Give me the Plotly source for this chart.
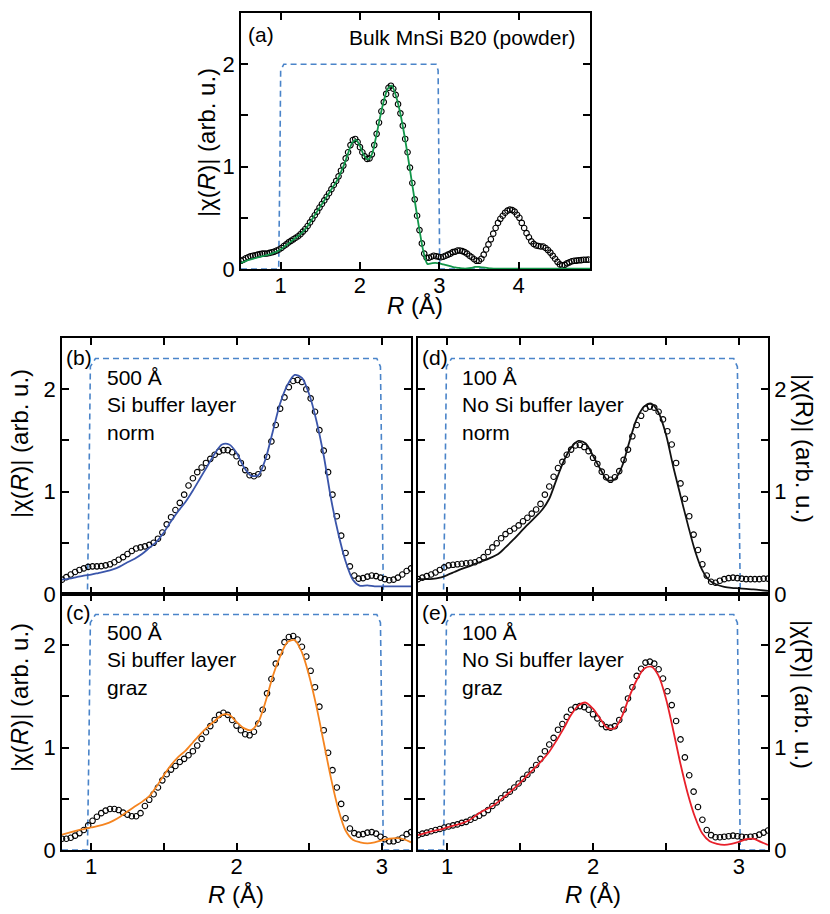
import numpy as np
import plotly.graph_objects as go

W, H = 830, 914
FONT = "Liberation Sans, Arial, sans-serif"

# ---- data (|chi(R)|, arb. u.) ----
# circles: data on an R grid starting at r0 with step 0.03; fits: step 0.05
A_R0, A_DR = 0.50, 0.03
a_data = [0.08, 0.09, 0.105, 0.115, 0.125, 0.13, 0.135, 0.14, 0.145, 0.15,
          0.15, 0.152, 0.157, 0.163, 0.17, 0.18, 0.19, 0.205, 0.225, 0.24,
          0.26, 0.275, 0.29, 0.305, 0.32, 0.34, 0.365, 0.39, 0.42, 0.455,
          0.49, 0.525, 0.56, 0.60, 0.635, 0.67, 0.705, 0.74, 0.78, 0.82,
          0.86, 0.905, 0.96, 1.01, 1.08, 1.14, 1.21, 1.26, 1.27, 1.24,
          1.19, 1.14, 1.10, 1.075, 1.08, 1.12, 1.21, 1.32, 1.43, 1.54,
          1.63, 1.71, 1.77, 1.79, 1.76, 1.70, 1.61, 1.52, 1.40, 1.27,
          1.14, 0.99, 0.84, 0.68, 0.52, 0.38, 0.25, 0.15, 0.11, 0.11,
          0.12, 0.13, 0.125, 0.12, 0.115, 0.12, 0.13, 0.14, 0.15, 0.165,
          0.17, 0.18, 0.18, 0.175, 0.165, 0.15, 0.13, 0.115, 0.095, 0.08,
          0.08, 0.10, 0.14, 0.19, 0.24, 0.29, 0.345, 0.40, 0.45, 0.49,
          0.52, 0.55, 0.57, 0.58, 0.575, 0.56, 0.53, 0.50, 0.45, 0.40,
          0.35, 0.31, 0.27, 0.245, 0.23, 0.225, 0.22, 0.22, 0.205, 0.185,
          0.16, 0.13, 0.10, 0.07, 0.045, 0.035, 0.04, 0.055, 0.065, 0.075,
          0.08, 0.082, 0.085, 0.087, 0.09, 0.09, 0.092]
A_FR0, A_FDR = 0.50, 0.05
a_fit = [0.06, 0.075, 0.09, 0.10, 0.11, 0.12, 0.13, 0.14, 0.155, 0.17,
         0.19, 0.22, 0.25, 0.28, 0.31, 0.34, 0.38, 0.43, 0.49, 0.55,
         0.61, 0.67, 0.73, 0.79, 0.85, 0.93, 1.02, 1.13, 1.23, 1.26,
         1.20, 1.11, 1.07, 1.12, 1.28, 1.47, 1.64, 1.76, 1.79, 1.70,
         1.55, 1.35, 1.12, 0.87, 0.62, 0.38, 0.17, 0.05, 0.055, 0.06,
         0.055, 0.045, 0.035, 0.025, 0.015, 0.01, 0.005, 0.005, 0.01, 0.02,
         0.02, 0.015, 0.01, 0.005, 0.004, 0.003, 0.003, 0.003, 0.003, 0.003,
         0.003, 0.003, 0.003, 0.003, 0.003, 0.003, 0.003, 0.003, 0.003, 0.003,
         0.003, 0.003, 0.003, 0.003, 0.003, 0.003, 0.003, 0.003, 0.003]

R0, DR = 0.80, 0.03
FR0, FDR = 0.80, 0.05
b_data = [0.14, 0.165, 0.19, 0.215, 0.235, 0.25, 0.265, 0.27, 0.27, 0.272,
          0.28, 0.29, 0.31, 0.335, 0.36, 0.39, 0.42, 0.445, 0.455, 0.465,
          0.48, 0.50, 0.54, 0.60, 0.68, 0.75, 0.82, 0.89, 0.97, 1.06,
          1.13, 1.19, 1.235, 1.28, 1.32, 1.36, 1.39, 1.405, 1.405, 1.385,
          1.345, 1.28, 1.21, 1.16, 1.15, 1.17, 1.23, 1.34, 1.49, 1.65,
          1.81, 1.92, 2.02, 2.08, 2.09, 2.07, 2.00, 1.91, 1.78, 1.60,
          1.40, 1.19, 0.97, 0.76, 0.57, 0.40, 0.27, 0.18, 0.15, 0.155,
          0.17, 0.18, 0.175, 0.16, 0.145, 0.135, 0.14, 0.16, 0.19, 0.225,
          0.25]
b_fit = [0.14, 0.15, 0.165, 0.18, 0.19, 0.205, 0.22, 0.24, 0.27, 0.31,
         0.345, 0.39, 0.45, 0.51, 0.60, 0.71, 0.81, 0.90, 1.01, 1.13,
         1.25, 1.37, 1.46, 1.46, 1.38, 1.24, 1.155, 1.16, 1.32, 1.59,
         1.86, 2.04, 2.14, 2.11, 1.95, 1.69, 1.35, 0.93, 0.59, 0.32,
         0.14, 0.08, 0.085, 0.075, 0.075, 0.075, 0.075, 0.075, 0.075]

c_data = [0.11, 0.11, 0.12, 0.14, 0.165, 0.195, 0.24, 0.285, 0.325, 0.36,
          0.385, 0.40, 0.40, 0.39, 0.365, 0.345, 0.33, 0.33, 0.36, 0.43,
          0.49, 0.545, 0.61, 0.68, 0.74, 0.785, 0.82, 0.86, 0.89, 0.925,
          0.965, 1.02, 1.085, 1.15, 1.21, 1.27, 1.32, 1.34, 1.32, 1.27,
          1.215, 1.17, 1.13, 1.12, 1.155, 1.235, 1.37, 1.53, 1.67, 1.82,
          1.93, 2.03, 2.08, 2.09, 2.055, 1.985, 1.89, 1.75, 1.59, 1.40,
          1.17, 0.95, 0.78, 0.61, 0.45, 0.31, 0.21, 0.165, 0.15, 0.155,
          0.17, 0.175, 0.16, 0.13, 0.105, 0.085, 0.085, 0.10, 0.12, 0.155,
          0.175]
c_fit = [0.15, 0.17, 0.19, 0.205, 0.22, 0.235, 0.255, 0.285, 0.325, 0.375,
         0.425, 0.47, 0.525, 0.62, 0.73, 0.83, 0.91, 0.97, 1.05, 1.13,
         1.20, 1.26, 1.32, 1.32, 1.25, 1.19, 1.17, 1.25, 1.45, 1.70,
         1.89, 2.03, 2.05, 1.93, 1.70, 1.40, 1.05, 0.70, 0.40, 0.19,
         0.10, 0.075, 0.065, 0.075, 0.095, 0.11, 0.115, 0.105, 0.075]

d_data = [0.145, 0.16, 0.175, 0.19, 0.21, 0.235, 0.26, 0.28, 0.285, 0.29,
          0.295, 0.30, 0.305, 0.31, 0.33, 0.36, 0.41, 0.455, 0.495, 0.545,
          0.585, 0.615, 0.64, 0.67, 0.71, 0.745, 0.785, 0.825, 0.88, 0.97,
          1.05, 1.145, 1.23, 1.29, 1.36, 1.41, 1.45, 1.455, 1.435, 1.395,
          1.33, 1.27, 1.195, 1.14, 1.115, 1.14, 1.20, 1.31, 1.41, 1.54,
          1.65, 1.74, 1.81, 1.83, 1.82, 1.78, 1.705, 1.59, 1.46, 1.28,
          1.08, 0.93, 0.76, 0.58, 0.43, 0.29, 0.18, 0.12, 0.11, 0.13,
          0.145, 0.155, 0.16, 0.155, 0.15, 0.145, 0.145, 0.145, 0.145, 0.15,
          0.15]
d_fit = [0.145, 0.145, 0.148, 0.16, 0.185, 0.215, 0.245, 0.27, 0.30, 0.325,
         0.355, 0.39, 0.455, 0.525, 0.60, 0.675, 0.745, 0.82, 0.93, 1.12,
         1.30, 1.43, 1.495, 1.47, 1.35, 1.22, 1.11, 1.12, 1.25, 1.49,
         1.71, 1.83, 1.86, 1.77, 1.56, 1.245, 0.96, 0.68, 0.42, 0.23,
         0.13, 0.09, 0.07, 0.06, 0.055, 0.05, 0.045, 0.038, 0.03]

e_data = [0.145, 0.16, 0.17, 0.183, 0.195, 0.205, 0.22, 0.23, 0.24, 0.25,
          0.265, 0.275, 0.295, 0.315, 0.335, 0.36, 0.39, 0.43, 0.465, 0.505,
          0.54, 0.57, 0.61, 0.65, 0.695, 0.735, 0.78, 0.83, 0.89, 0.965,
          1.03, 1.095, 1.175, 1.23, 1.30, 1.37, 1.395, 1.405, 1.395, 1.37,
          1.325, 1.285, 1.23, 1.20, 1.195, 1.21, 1.27, 1.37, 1.48, 1.59,
          1.70, 1.77, 1.83, 1.84, 1.82, 1.765, 1.675, 1.55, 1.415, 1.26,
          1.08, 0.905, 0.73, 0.57, 0.42, 0.295, 0.195, 0.145, 0.125, 0.125,
          0.13, 0.135, 0.14, 0.135, 0.13, 0.125, 0.13, 0.135, 0.15, 0.17,
          0.19]
e_fit = [0.145, 0.165, 0.185, 0.20, 0.22, 0.24, 0.26, 0.29, 0.34, 0.385,
         0.42, 0.47, 0.53, 0.59, 0.655, 0.73, 0.80, 0.875, 0.96, 1.07,
         1.19, 1.32, 1.41, 1.44, 1.38, 1.28, 1.19, 1.19, 1.31, 1.50,
         1.66, 1.77, 1.79, 1.70, 1.48, 1.17, 0.84, 0.55, 0.32, 0.16,
         0.085, 0.06, 0.05, 0.06, 0.08, 0.105, 0.11, 0.08, 0.05]

# Fourier-transform windows (dashed)
win_a_r = [0.5, 0.975, 0.99, 1.0, 1.04, 2.96, 2.985, 2.995, 3.005, 4.9]
win_a_y = [0, 0, 1.0, 1.94, 2.0, 2.0, 1.94, 1.0, 0, 0]
win_r = [0.8, 0.975, 0.985, 0.995, 1.03, 2.965, 2.99, 3.0, 3.01, 3.2]
win_y = [0, 0, 1.0, 2.22, 2.3, 2.3, 2.22, 1.0, 0, 0]


def grid(r0, dr, vals):
    return np.round(r0 + dr * np.arange(len(vals)), 3)


def px(x):
    return x / W


def py(y):
    return 1 - y / H


WIN_COLOR = "#4a84c9"
panels = [
    # axis suffix, data, fit, colour, window
    ("", grid(A_R0, A_DR, a_data), a_data, grid(A_FR0, A_FDR, a_fit), a_fit, "#12964a", win_a_r, win_a_y),
    ("2", grid(R0, DR, b_data), b_data, grid(FR0, FDR, b_fit), b_fit, "#3a55aa", win_r, win_y),
    ("3", grid(R0, DR, c_data), c_data, grid(FR0, FDR, c_fit), c_fit, "#f5841f", win_r, win_y),
    ("4", grid(R0, DR, d_data), d_data, grid(FR0, FDR, d_fit), d_fit, "#111111", win_r, win_y),
    ("5", grid(R0, DR, e_data), e_data, grid(FR0, FDR, e_fit), e_fit, "#e8202a", win_r, win_y),
]

fig = go.Figure()
for sfx, rd, yd, rf, yf, col, wr, wy in panels:
    xa, ya = "x" + sfx, "y" + sfx
    fig.add_trace(go.Scatter(x=wr, y=wy, mode="lines", xaxis=xa, yaxis=ya,
                             line=dict(color=WIN_COLOR, width=1.6, dash="6px,4px")))
    fig.add_trace(go.Scatter(x=rd, y=yd, mode="markers", xaxis=xa, yaxis=ya,
                             marker=dict(symbol="circle-open", size=5.5, color="black",
                                         line=dict(width=1.1, color="black"))))
    fig.add_trace(go.Scatter(x=rf, y=yf, mode="lines", xaxis=xa, yaxis=ya,
                             line=dict(color=col, width=1.8, shape="spline", smoothing=0.8)))

common = dict(showline=True, linecolor="black", linewidth=1.5, mirror="ticks",
              ticks="inside", ticklen=7, tickwidth=1.5, tickcolor="black",
              showgrid=False, zeroline=False, automargin=False,
              tickfont=dict(family=FONT, size=22, color="black"))
yt = dict(tickvals=[0, 0.5, 1, 1.5, 2], ticktext=["0", "", "1", "", "2"], range=[0, 2.5])
xt = dict(tickvals=[1, 1.5, 2, 2.5, 3], ticktext=["1", "", "2", "", "3"], range=[0.8, 3.2],
          ticklabelstandoff=-4)

L, M, R_ = (62, 411), (418, 768), (241, 590)
layout = dict(
    width=W, height=H, margin=dict(l=0, r=0, t=0, b=0, autoexpand=False),
    paper_bgcolor="white", plot_bgcolor="white", showlegend=False,
    font=dict(family=FONT, size=21, color="black"),
    xaxis=dict(common, domain=[px(R_[0]), px(R_[1])], range=[0.5, 4.9],
               tickvals=[1, 2, 3, 4], ticklabelstandoff=-4, anchor="y"),
    yaxis=dict(common, **yt, domain=[py(269), py(13)], anchor="x"),
    xaxis2=dict(common, **xt, domain=[px(L[0]), px(L[1])], anchor="y2", showticklabels=False),
    yaxis2=dict(common, **yt, domain=[py(594), py(338)], anchor="x2"),
    xaxis3=dict(common, **xt, domain=[px(L[0]), px(L[1])], anchor="y3"),
    yaxis3=dict(common, **yt, domain=[py(850), py(594)], anchor="x3"),
    xaxis4=dict(common, **xt, domain=[px(M[0]), px(M[1])], anchor="y4", showticklabels=False),
    yaxis4=dict(common, **yt, domain=[py(594), py(338)], anchor="x4", side="right"),
    xaxis5=dict(common, **xt, domain=[px(M[0]), px(M[1])], anchor="y5"),
    yaxis5=dict(common, **yt, domain=[py(850), py(594)], anchor="x5", side="right"),
)
fig.update_layout(**layout)

ylab_l = "|χ(<i>R</i>)| (arb. u.)"
ylab_r = "|χ(R)| (arb. u.)"
xlab = "<i>R</i> (Å)"


def note(text, x, y, xanchor="left", yanchor="middle", size=21, angle=0, align="left"):
    fig.add_annotation(text=text, x=px(x), y=py(y), xref="paper", yref="paper",
                       xanchor=xanchor, yanchor=yanchor, showarrow=False,
                       textangle=angle, align=align,
                       font=dict(family=FONT, size=size, color="black"))


# axis titles
note(ylab_l, 207, 143, "center", "middle", 24, -90)
note(ylab_l, 19, 444, "center", "middle", 24, -90)
note(ylab_l, 19, 698, "center", "middle", 24, -90)
note(ylab_r, 804, 448, "center", "middle", 24, 90)
note(ylab_r, 804, 694, "center", "middle", 24, 90)
note(xlab, 415, 305, "center", "middle", 24)
note(xlab, 236, 894, "center", "middle", 24)
note(xlab, 593, 894, "center", "middle", 24)

# panel labels and captions
note("(a)", 246, 35)
note("Bulk MnSi B20 (powder)", 577, 37, "right")
note("(b)", 64, 357)
note("500 Å<br>Si buffer layer<br>norm", 105, 405)
note("(c)", 64, 612)
note("500 Å<br>Si buffer layer<br>graz", 105, 660)
note("(d)", 420, 357)
note("100 Å<br>No Si buffer layer<br>norm", 460, 405)
note("(e)", 420, 612)
note("100 Å<br>No Si buffer layer<br>graz", 460, 660)

fig.write_html("out.html", config={"displayModeBar": False},
               post_script="document.body.style.margin='0px';document.body.style.overflow='hidden';")
